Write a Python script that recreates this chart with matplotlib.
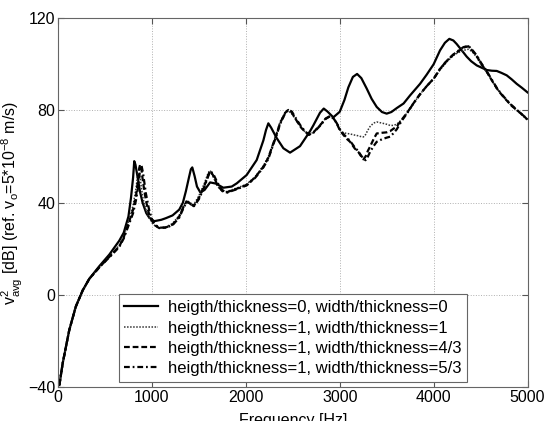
import matplotlib
matplotlib.use("Agg")
import matplotlib.pyplot as plt

plt.rcParams['font.family'] = ['Liberation Sans', 'DejaVu Sans']

# solid curve: heigth/thickness=0, width/thickness=0
freq_solid = [15, 50, 120, 190, 263, 333, 440, 546, 652, 700, 750, 777, 800, 812, 825,
              848, 875, 901, 940, 972, 1025, 1100, 1149, 1220, 1291, 1330, 1362, 1395,
              1415, 1430, 1455, 1480, 1515, 1560, 1620, 1680, 1760, 1850, 1904, 2009,
              2116, 2187, 2215, 2240, 2270, 2329, 2400, 2471, 2577, 2684, 2719, 2790,
              2830, 2870, 2932, 3000, 3050, 3092, 3140, 3185, 3230, 3287, 3340, 3394,
              3450, 3500, 3550, 3607, 3680, 3749, 3855, 3926, 4000, 4068, 4120, 4167,
              4210, 4245, 4300, 4352, 4400, 4459, 4565, 4620, 4672, 4720, 4778, 4830,
              4885, 4940, 5000]
vals_solid = [-39, -29.6, -15.2, -5, 2, 7, 12.5, 17.5, 23.5, 27, 34, 42, 51, 58, 56.5,
              51, 44.5, 40, 35.5, 33.5, 32, 32.6, 33.3, 34.5, 37, 40, 45, 51,
              54.5, 55.3, 51.5, 47, 44.5, 45.5, 48.8, 48.3, 46.5, 47, 48.4, 52,
              58.5, 67, 71.5, 74.4, 72.5, 68, 63.6, 61.7, 64.5, 71, 73.5, 79,
              80.8, 79.5, 77, 79.4, 84.5, 90, 94.5, 95.8, 94, 89.5, 85, 81.5,
              79.3, 78.6, 79.3, 81, 83, 86.5, 91.5, 95.5, 100, 106, 109.3, 111,
              110.3, 108.8, 106, 103.3, 101.3, 99.5, 97.5, 97.2, 97.1, 96.3, 95.2, 93.5,
              91.5, 89.8, 87.8]

# the three curves with heigth/thickness=1
freq_group = [15, 50, 120, 190, 263, 333, 440, 546, 652, 700, 759, 800, 830, 850, 865,
              875, 890, 905, 936, 970, 1007, 1040, 1078, 1150, 1220, 1291, 1340, 1370,
              1400, 1444, 1500, 1560, 1600, 1620, 1650, 1700, 1750, 1795, 1900, 2009,
              2100, 2187, 2240, 2293, 2330, 2364, 2420, 2453, 2490, 2542, 2590, 2630,
              2670, 2720, 2790, 2850, 2897, 2935, 2968, 3000, 3039, 3080, 3110, 3160,
              3198, 3230, 3252, 3275, 3300, 3323, 3360, 3394, 3450, 3500, 3536, 3570,
              3607, 3660, 3713, 3784, 3855, 3926, 4005, 4068, 4140, 4210, 4260, 4316,
              4370, 4410, 4459, 4510, 4565, 4620, 4672, 4720, 4778, 4830, 4885, 4940,
              5000]
vals_w1 = [-39, -29.6, -15.2, -5, 2, 7, 12, 16.8, 21.5, 25.5, 32.5, 39, 46, 52.5, 53,
           50.5, 46, 42, 37, 33.5, 31, 29.8, 29, 29.5, 31, 34.5, 39, 41,
           40.2, 39, 43, 48.5, 53, 54, 51.5, 47, 45, 44.8, 46.3, 48,
           51.3, 56, 60, 66, 70.5, 75, 79.3, 79.8, 78.5, 75.3, 72.5, 70.8,
           69.5, 70.5, 73.8, 76.5, 77.5, 76.5, 74.5, 71.5, 70.3, 70, 69.8, 69.3,
           69, 68.6, 68.5, 69.5, 71.5, 73, 74.5, 75, 74.5, 74, 73.5, 73.5,
           74, 76, 78.7, 83, 87, 90.5, 94, 97.5, 101, 103.8, 105, 106,
           106.5, 105.5, 103, 99.5, 96.5, 93, 89.5, 87, 84.3, 82, 80, 78,
           75.8]
vals_w43 = [-39, -29.6, -15.2, -5, 2, 7, 12, 16.5, 21, 25, 32, 37, 42.6, 49, 55,
            56.5, 54, 49, 41, 35, 31.8, 30, 29, 29.3, 30.5, 34, 38.5, 40.5,
            40, 38.5, 42, 47.5, 52, 53.8, 52, 47.5, 45, 44.5, 46, 47.7,
            51, 55.6, 59.5, 65.7, 70, 74.4, 79, 80.2, 79, 75.5, 72.5, 70.8,
            69.4, 70.5, 73.5, 76.5, 77.5, 76.5, 74.4, 71.5, 69.4, 67.5, 66.4, 63.5,
            62, 60, 58.8, 60, 62.5, 64.3, 67.5, 70, 70.3, 70.5, 71, 72,
            73, 76, 78.7, 83, 87, 90.5, 94, 98, 101.5, 104.2, 105.5, 107.2,
            107.8, 106, 103.5, 100, 96.8, 93, 89.6, 87, 84.3, 82, 80.2, 78.3,
            76]
vals_w53 = [-39, -29.6, -15.2, -5, 2, 7, 12, 16.3, 20.8, 24.5, 31, 35.5, 41, 46, 51,
            55, 56, 53, 44, 37, 32, 30.3, 29.2, 29.2, 30.3, 33.5, 38, 40.3,
            39.8, 38.3, 41.5, 47, 51.5, 53.5, 52.8, 48.5, 45.5, 44.3, 45.8, 47.5,
            50.8, 55.3, 59, 65.3, 69.5, 74, 78.8, 80.3, 79.5, 76, 73, 71,
            69.5, 70.3, 73.3, 76.3, 77.5, 76.5, 74.5, 72, 69.8, 68, 66.8, 64,
            62.3, 60.3, 59.2, 58.4, 60, 62, 64.5, 66.4, 67.5, 68.2, 68.6, 70,
            71.8, 75.5, 78.5, 83, 87, 90.5, 94, 98, 101.5, 104.2, 105.8, 107.4,
            108, 106.3, 103.8, 100.3, 97, 93.3, 89.8, 87.2, 84.5, 82.3, 80.3, 78.3,
            76.2]

labels = ['heigth/thickness=0, width/thickness=0',
          'heigth/thickness=1, width/thickness=1',
          'heigth/thickness=1, width/thickness=4/3',
          'heigth/thickness=1, width/thickness=5/3']

x_ticks = [0, 1000, 2000, 3000, 4000, 5000]
y_ticks = [-40, 0, 40, 80, 120]

fig = plt.figure(figsize=(5.46, 4.21), dpi=100)
ax = fig.add_axes([0.1062, 0.080, 0.860, 0.877])

ax.plot(freq_solid, vals_solid, color='black', lw=1.6, ls='-', label=labels[0])
ax.plot(freq_group, vals_w1, color='#333333', lw=1.1, ls=(0, (1, 1)), label=labels[1])
ax.plot(freq_group, vals_w43, color='black', lw=1.6, ls=(0, (2.6, 1.3)), label=labels[2])
ax.plot(freq_group, vals_w53, color='black', lw=1.6, ls=(0, (2.6, 1.3, 0.8, 1.3)), label=labels[3])

ax.set_xlim(0, 5000)
ax.set_ylim(-40, 120)
ax.set_xticks(x_ticks)
ax.set_yticks(y_ticks)
ax.grid(True, color='#b0b0b0', ls=':', lw=0.7)
ax.tick_params(direction='in', length=4, top=True, right=True, labelsize=11.5,
               pad=2, color='#555555')
for sp in ax.spines.values():
    sp.set_color('#666666')
    sp.set_linewidth(0.8)

# the reference crops the axis title at the bottom edge
ax.set_xlabel('Frequency [Hz]', fontsize=11.5, labelpad=6)
ax.set_ylabel(r'$\mathregular{v^2_{avg}}$ [dB] (ref. $\mathregular{v_o}$=5*10$^{\mathregular{-8}}$ m/s)',
              fontsize=11.5, labelpad=2)

leg = ax.legend(loc='lower center', bbox_to_anchor=(0.5, 0.014), borderaxespad=0,
                fontsize=12, fancybox=False, edgecolor='#666666', framealpha=1,
                handlelength=2.0, labelspacing=0.32, borderpad=0.35, handletextpad=0.6)
leg.get_frame().set_linewidth(0.8)

fig.savefig('out.png', dpi=100)
